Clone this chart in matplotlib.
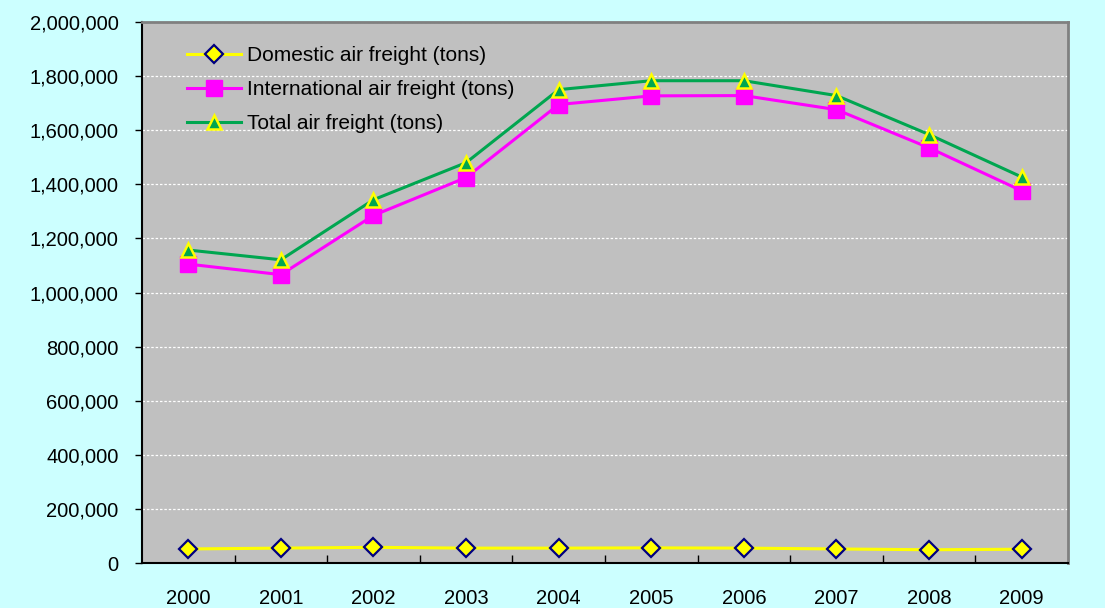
import matplotlib.pyplot as plt
from matplotlib.ticker import FuncFormatter, FixedLocator

# 字体
plt.rcParams['font.family'] = ['Liberation Sans', 'DejaVu Sans']

# 航空货运量数据 (吨)
years = ['2000', '2001', '2002', '2003', '2004', '2005', '2006', '2007', '2008', '2009']
domestic = [52000, 55000, 58000, 55000, 55000, 56000, 55000, 52000, 49000, 51000]
international = [1105000, 1066000, 1285000, 1425000, 1695000, 1727000, 1728000, 1676000, 1535000, 1376000]
total = [1157000, 1121000, 1343000, 1480000, 1750000, 1783000, 1783000, 1728000, 1584000, 1427000]

fig = plt.figure(figsize=(11.05, 6.08), dpi=100, facecolor='#CCFFFF')
ax = fig.add_axes([0.1285, 0.074, 0.838, 0.8898])
ax.set_facecolor('#C0C0C0')

x = list(range(len(years)))

# 绘制三条折线
ax.plot(x, domestic, color='#FFFF00', lw=2.2, marker='D', ms=9,
        mfc='#FFFF00', mec='#000080', mew=1.6, label='Domestic air freight (tons)', zorder=3)
ax.plot(x, international, color='#FF00FF', lw=2.2, marker='s', ms=11,
        mfc='#FF00FF', mec='#FF00FF', label='International air freight (tons)', zorder=3)
ax.plot(x, total, color='#00A650', lw=2.2, marker='^', ms=10.5,
        mfc='#00A650', mec='#FFFF00', mew=1.8, label='Total air freight (tons)', zorder=4)

# 坐标轴
ax.set_xlim(-0.5, len(years) - 0.5)
ax.set_ylim(0, 2000000)
ax.set_yticks(range(0, 2000001, 200000))
ax.yaxis.set_major_formatter(FuncFormatter(lambda v, p: f'{int(v):,}'))
ax.set_xticks(x)
ax.set_xticklabels(years)
ax.xaxis.set_minor_locator(FixedLocator([i + 0.5 for i in range(len(years) - 1)]))
ax.tick_params(axis='x', which='major', length=0, pad=19, labelsize=14.5)
ax.tick_params(axis='x', which='minor', direction='in', length=6, width=1, color='black')
ax.tick_params(axis='y', direction='out', length=5, width=1, pad=12, labelsize=14.5)

# 网格线
ax.yaxis.grid(True, color='white', linestyle=(0, (2, 1.5)), linewidth=0.9)
ax.set_axisbelow(True)

for side in ['left', 'bottom']:
    ax.spines[side].set_color('black')
    ax.spines[side].set_linewidth(1.5)
for side in ['top', 'right']:
    ax.spines[side].set_color('#808080')
    ax.spines[side].set_linewidth(2)

# 图例
ax.legend(loc='upper left', bbox_to_anchor=(0.028, 0.99), frameon=False,
          fontsize=15, handlelength=2.6, labelspacing=0.72, handletextpad=0.3)

plt.savefig('out.png', dpi=100, facecolor=fig.get_facecolor())
